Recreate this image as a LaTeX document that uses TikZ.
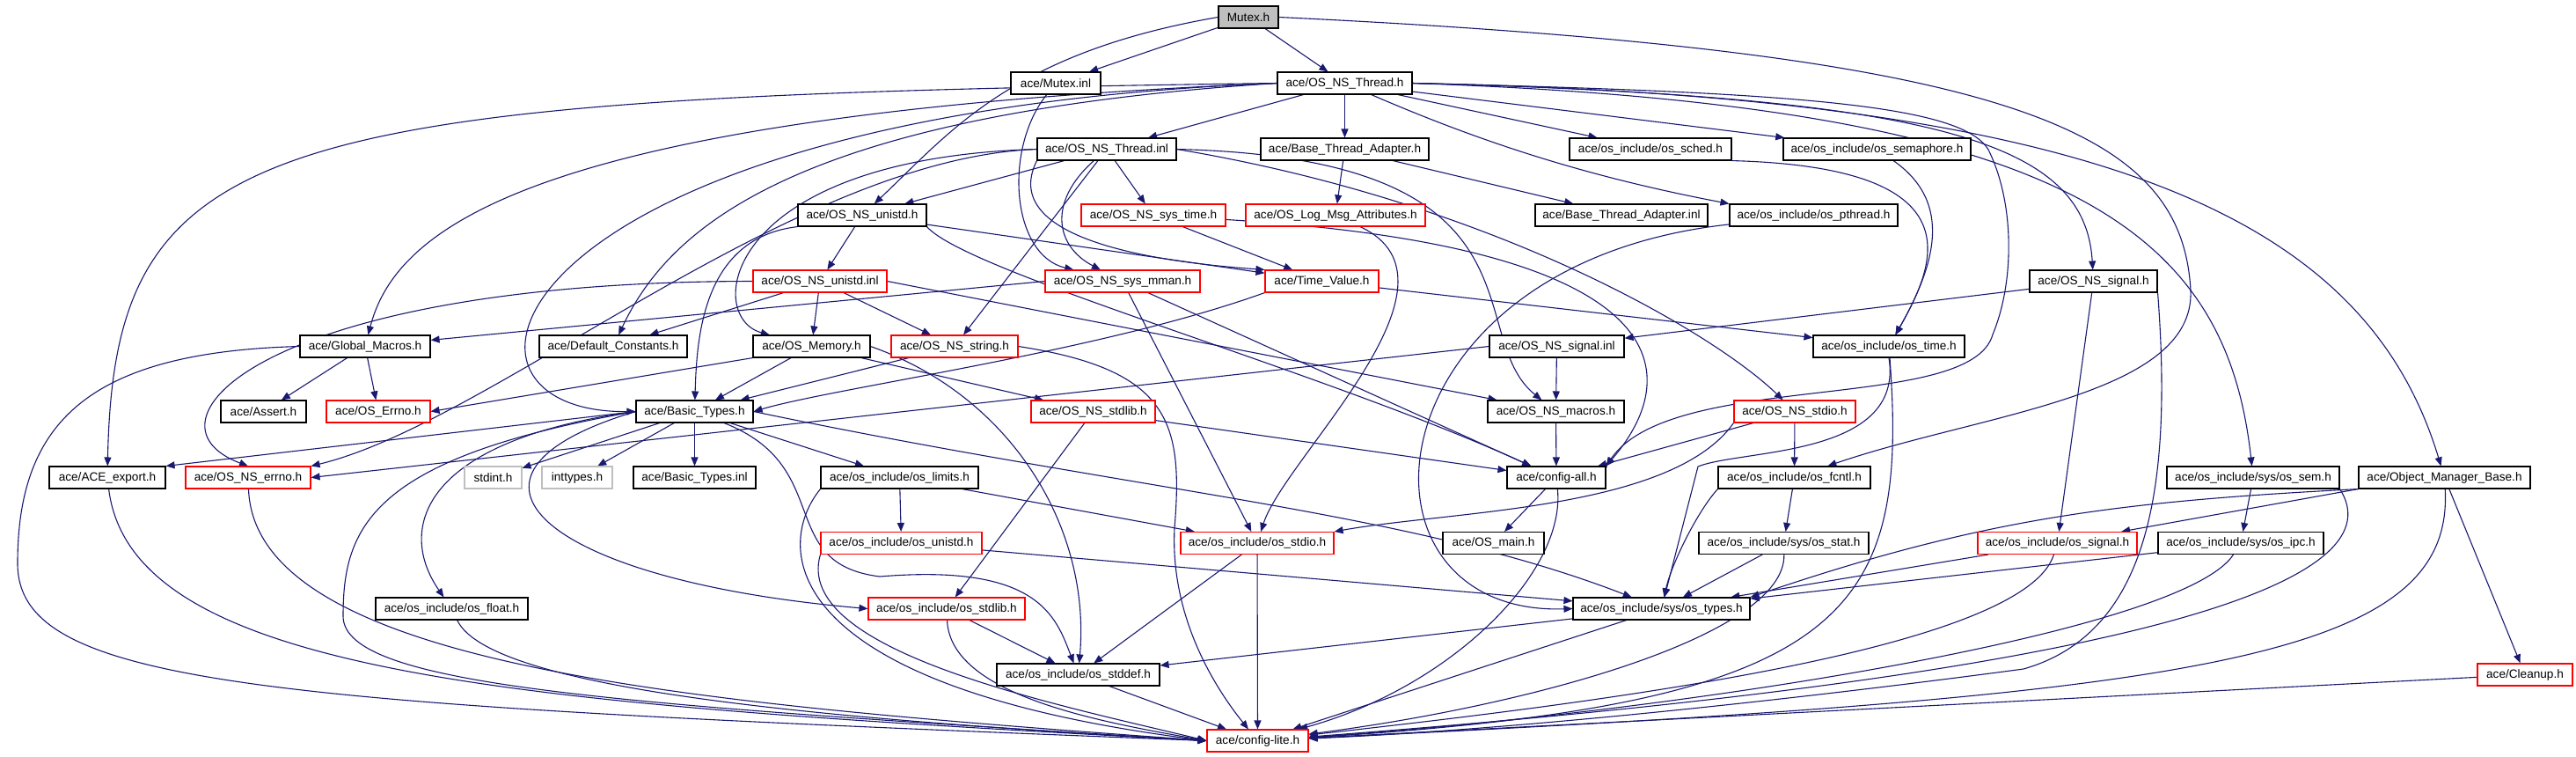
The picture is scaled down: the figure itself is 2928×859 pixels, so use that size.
\documentclass[tikz,border=0pt]{standalone}
\usepackage{fontspec}
\setmainfont{Liberation Sans}
\usepackage{tikz}
\usetikzlibrary{arrows.meta,backgrounds}
\definecolor{edgeblue}{HTML}{191970}
\definecolor{boxgray}{HTML}{BFBFBF}

\begin{document}
\begin{tikzpicture}[x=0.5pt,y=-0.5pt,
  filebox/.style={draw=black, fill=white, line width=0.55pt, minimum height=12.5pt, inner sep=0pt, font=\fontsize{6.8}{8}\selectfont},
  redfile/.style={filebox, draw=red},
  greyfile/.style={filebox, draw=boxgray},
  wd/.style={minimum width=#1*0.5pt}]
 \useasboundingbox (0,0) rectangle (2928,859);
 %the files, row by row
    \node[filebox, fill=boxgray, wd=68] (mutexh) at (1419,19.5) {Mutex.h};

    \node[filebox, wd=102] (mutexinl) at (1200,94.5) {ace/Mutex.inl};
    \node[filebox, wd=153] (nsthreadh) at (1528.5,94.5) {ace/OS\_NS\_Thread.h};

    \node[filebox, wd=158] (nsthreadinl) at (1258,169.5) {ace/OS\_NS\_Thread.inl};
    \node[filebox, wd=191] (btah) at (1528.5,169.5) {ace/Base\_Thread\_Adapter.h};
    \node[filebox, wd=184] (schedh) at (1876,169.5) {ace/os\_include/os\_sched.h};
    \node[filebox, wd=213] (semaphoreh) at (2133.5,169.5) {ace/os\_include/os\_semaphore.h};

    \node[filebox, wd=146] (unistdh) at (980,244.5) {ace/OS\_NS\_unistd.h};
    \node[redfile, wd=164] (systimeh) at (1311,244.5) {ace/OS\_NS\_sys\_time.h};
    \node[redfile, wd=204] (logmsgh) at (1518,244.5) {ace/OS\_Log\_Msg\_Attributes.h};
    \node[filebox, wd=196] (btainl) at (1843,244.5) {ace/Base\_Thread\_Adapter.inl};
    \node[filebox, wd=191] (pthreadh) at (2061.5,244.5) {ace/os\_include/os\_pthread.h};

    \node[redfile, wd=152] (unistdinl) at (932,319.5) {ace/OS\_NS\_unistd.inl};
    \node[redfile, wd=176] (mmanh) at (1276,319.5) {ace/OS\_NS\_sys\_mman.h};
    \node[redfile, wd=129] (timevalueh) at (1502.5,319.5) {ace/Time\_Value.h};
    \node[filebox, wd=145] (signalh) at (2379.5,319.5) {ace/OS\_NS\_signal.h};

    \node[filebox, wd=148] (globalmacros) at (415,393.5) {ace/Global\_Macros.h};
    \node[filebox, wd=168] (defconst) at (697,393.5) {ace/Default\_Constants.h};
    \node[filebox, wd=133] (memoryh) at (922.5,393.5) {ace/OS\_Memory.h};
    \node[redfile, wd=144] (stringh) at (1085,393.5) {ace/OS\_NS\_string.h};
    \node[filebox, wd=153] (signalinl) at (1769.5,393.5) {ace/OS\_NS\_signal.inl};
    \node[filebox, wd=172] (ostimeh) at (2147,393.5) {ace/os\_include/os\_time.h};

    \node[filebox, wd=97] (asserth) at (299.5,467.5) {ace/Assert.h};
    \node[redfile, wd=118] (errnoh) at (430,467.5) {ace/OS\_Errno.h};
    \node[filebox, wd=133] (basictypesh) at (789.5,467.5) {ace/Basic\_Types.h};
    \node[redfile, wd=141] (stdlibh) at (1242.5,467.5) {ace/OS\_NS\_stdlib.h};
    \node[filebox, wd=155] (macrosh) at (1768.5,467.5) {ace/OS\_NS\_macros.h};
    \node[redfile, wd=138] (stdioh) at (2040,467.5) {ace/OS\_NS\_stdio.h};

    \node[filebox, wd=132] (exporth) at (122,542.5) {ace/ACE\_export.h};
    \node[redfile, wd=142] (nserrnoh) at (282,542.5) {ace/OS\_NS\_errno.h};
    \node[greyfile, wd=65] (stdint) at (560.5,542.5) {stdint.h};
    \node[greyfile, wd=80] (inttypes) at (656,542.5) {inttypes.h};
    \node[filebox, wd=139] (basictypesinl) at (789.5,542.5) {ace/Basic\_Types.inl};
    \node[filebox, wd=179] (limitsh) at (1022.5,542.5) {ace/os\_include/os\_limits.h};
    \node[filebox, wd=112] (configall) at (1769,542.5) {ace/config-all.h};
    \node[filebox, wd=173] (fcntlh) at (2039.5,542.5) {ace/os\_include/os\_fcntl.h};
    \node[filebox, wd=196] (semh) at (2561,542.5) {ace/os\_include/sys/os\_sem.h};
    \node[filebox, wd=195] (objmgr) at (2778.5,542.5) {ace/Object\_Manager\_Base.h};

    \node[redfile, wd=183] (osunistdh) at (1024.5,617) {ace/os\_include/os\_unistd.h};
    \node[redfile, wd=174] (osstdioh) at (1429,617) {ace/os\_include/os\_stdio.h};
    \node[filebox, wd=115] (osmain) at (1697.5,617) {ace/OS\_main.h};
    \node[filebox, wd=193] (stath) at (2027.5,617) {ace/os\_include/sys/os\_stat.h};
    \node[redfile, wd=181] (ossignalh) at (2338.5,617) {ace/os\_include/os\_signal.h};
    \node[filebox, wd=188] (ipch) at (2547,617) {ace/os\_include/sys/os\_ipc.h};

    \node[filebox, wd=173] (floath) at (513.5,691.5) {ace/os\_include/os\_float.h};
    \node[redfile, wd=178] (osstdlibh) at (1076,691.5) {ace/os\_include/os\_stdlib.h};
    \node[filebox, wd=201] (typesh) at (1888.5,691.5) {ace/os\_include/sys/os\_types.h};

    \node[filebox, wd=185] (stddefh) at (1225.5,766.5) {ace/os\_include/os\_stddef.h};
    \node[redfile, wd=108] (cleanuph) at (2870,766.5) {ace/Cleanup.h};

    \node[redfile, wd=115] (configlite) at (1429.5,841.5) {ace/config-lite.h};

 %the include arrows, behind the files
 \begin{pgfonlayer}{background}
    \begin{scope}[every path/.style={draw=edgeblue, line width=0.55pt, -{Triangle[length=5pt,width=4pt]}}]
       %Mutex.h
       \draw (mutexh) -- (mutexinl);
       \draw (mutexh) -- (nsthreadh);
       \draw (mutexh.west) .. controls (1150,60) and (1080,150) .. (unistdh);
       \draw (mutexh.east) .. controls (2300,60) and (2480,150) .. (2490,330) .. controls (2495,450) and (2250,470) .. (fcntlh);
       %ace/Mutex.inl
       \draw (mutexinl) .. controls (1140,170) and (1150,290) .. (mmanh);
       %ace/OS_NS_Thread.h
       \draw (nsthreadh) -- (nsthreadinl);
       \draw (nsthreadh) -- (btah);
       \draw (nsthreadh) -- (schedh);
       \draw (nsthreadh) -- (semaphoreh);
       \draw (nsthreadh) .. controls (1680,160) and (1800,200) .. (pthreadh.north west);
       \draw (nsthreadh.west) .. controls (300,110) and (130,150) .. (exporth);
       \draw (nsthreadh.west) .. controls (600,130) and (450,260) .. (globalmacros);
       \draw (nsthreadh.west) .. controls (560,130) and (470,470) .. (basictypesh.west);
       \draw (nsthreadh.west) .. controls (900,130) and (760,260) .. (defconst);
       \draw (nsthreadh.east) .. controls (2200,110) and (2370,160) .. (signalh);
       \draw (nsthreadh.east) .. controls (2350,120) and (2530,260) .. (semh);
       \draw (nsthreadh.east) .. controls (2400,110) and (2690,250) .. (objmgr);
       \draw (nsthreadh.east) .. controls (2050,105) and (2230,120) .. (2260,170) .. controls (2290,230) and (2290,320) .. (2265,380) .. controls (2240,470) and (1900,420) .. (configall.north east);
       %ace/OS_NS_Thread.inl
       \draw (nsthreadinl) -- (unistdh);
       \draw (nsthreadinl) -- (systimeh);
       \draw (nsthreadinl) .. controls (1190,230) and (1200,280) .. (mmanh);
       \draw (nsthreadinl.south west) .. controls (1130,280) and (1350,300) .. (timevalueh.north west);
       \draw (nsthreadinl) -- (stringh);
       \draw (nsthreadinl.west) .. controls (820,180) and (800,360) .. (memoryh);
       \draw (nsthreadinl.west) .. controls (900,180) and (560,480) .. (nserrnoh.north east);
       \draw (nsthreadinl.east) .. controls (1770,180) and (1660,380) .. (macrosh);
       \draw (nsthreadinl.east) .. controls (1700,230) and (1950,380) .. (stdioh);
       %ace/Base_Thread_Adapter.h
       \draw (btah) -- (logmsgh);
       \draw (btah) -- (btainl);
       %os_sched.h, os_semaphore.h, os_pthread.h
       \draw (schedh.south east) .. controls (2250,190) and (2200,300) .. (ostimeh);
       \draw (semaphoreh) .. controls (2220,230) and (2200,300) .. (ostimeh);
       \draw (pthreadh) .. controls (1550,300) and (1520,700) .. (typesh.west);
       %ace/OS_NS_unistd.h
       \draw (unistdh) -- (unistdinl);
       \draw (unistdh.south west) .. controls (800,270) and (792,380) .. (basictypesh);
       \draw (unistdh) -- (timevalueh);
       \draw (unistdh.south east) .. controls (1100,310) and (1500,420) .. (configall);
       %ace/OS_NS_unistd.inl
       \draw (unistdinl.west) .. controls (300,320) and (150,480) .. (nserrnoh.north);
       \draw (unistdinl) -- (defconst);
       \draw (unistdinl) -- (memoryh);
       \draw (unistdinl) -- (stringh);
       \draw (unistdinl.east) -- (macrosh);
       %ace/OS_NS_sys_mman.h
       \draw (mmanh.west) -- (globalmacros);
       \draw (mmanh) -- (configall);
       \draw (mmanh) -- (osstdioh);
       %ace/Time_Value.h, ace/OS_NS_sys_time.h
       \draw (timevalueh.south west) .. controls (1250,400) and (950,440) .. (basictypesh.east);
       \draw (timevalueh) -- (ostimeh);
       \draw (systimeh) -- (timevalueh);
       \draw (systimeh) .. controls (1900,280) and (1920,420) .. (configall.north east);
       %ace/OS_Log_Msg_Attributes.h
       \draw (logmsgh) .. controls (1680,320) and (1460,520) .. (osstdioh);
       %ace/OS_NS_signal.h
       \draw (signalh) -- (signalinl);
       \draw (signalh) -- (ossignalh);
       \draw (signalh.south east) .. controls (2470,560) and (2440,720) .. (2300,760) .. controls (2000,800) and (1700,830) .. (configlite);
       %ace/Global_Macros.h
       \draw (globalmacros) -- (asserth);
       \draw (globalmacros) -- (errnoh);
       \draw (globalmacros.west) .. controls (100,400) and (20,480) .. (20,640) .. controls (20,780) and (300,800) .. (configlite.west);
       %ace/OS_Memory.h
       \draw (memoryh.south west) -- (errnoh.east);
       \draw (memoryh) -- (basictypesh);
       \draw (memoryh) -- (stdlibh);
       \draw (memoryh.east) .. controls (1150,450) and (1240,600) .. (stddefh);
       %ace/OS_NS_string.h, ace/OS_NS_signal.inl
       \draw (stringh) -- (basictypesh);
       \draw (stringh.east) .. controls (1330,420) and (1345,480) .. (1335,600) .. controls (1330,700) and (1380,780) .. (configlite);
       \draw (signalinl) -- (macrosh);
       \draw (signalinl.west) -- (nserrnoh.east);
       %ace/os_include/os_time.h
       \draw (ostimeh.south) .. controls (2165,520) and (1980,510) .. (1930,530) -- (typesh);
       \draw (ostimeh) .. controls (2170,700) and (2100,800) .. (configlite);
       %ace/Basic_Types.h
       \draw (basictypesh.west) -- (exporth.north east);
       \draw (basictypesh) -- (stdint);
       \draw (basictypesh) -- (inttypes);
       \draw (basictypesh) -- (basictypesinl);
       \draw (basictypesh) -- (limitsh);
       \draw (basictypesh.west) .. controls (480,500) and (450,600) .. (floath);
       \draw (basictypesh.west) .. controls (480,540) and (620,660) .. (osstdlibh.west);
       \draw (basictypesh.east) .. controls (1300,560) and (1600,580) .. (typesh);
       \draw (basictypesh) .. controls (950,530) and (880,640) .. (1000,655) .. controls (1180,640) and (1200,700) .. (stddefh);
       \draw (basictypesh.west) .. controls (420,520) and (390,600) .. (390,700) .. controls (390,780) and (700,800) .. (configlite.west);
       %ace/os_include/os_limits.h
       \draw (limitsh) -- (osunistdh);
       \draw (limitsh) -- (osstdioh);
       \draw (limitsh.south west) .. controls (880,620) and (880,780) .. (configlite.west);
       %ace/OS_NS_stdlib.h, ace/OS_NS_macros.h, ace/OS_NS_stdio.h
       \draw (stdlibh) -- (configall);
       \draw (stdlibh) -- (osstdlibh);
       \draw (macrosh) -- (configall);
       \draw (stdioh) -- (fcntlh);
       \draw (stdioh) -- (configall);
       \draw (stdioh.south west) .. controls (1900,580) and (1650,580) .. (osstdioh.north east);
       %ace/ACE_export.h, ace/OS_NS_errno.h, ace/os_include/os_float.h
       \draw (exporth) .. controls (150,770) and (600,800) .. (configlite.west);
       \draw (nserrnoh) .. controls (290,760) and (800,800) .. (configlite.west);
       \draw (floath) .. controls (560,790) and (1000,820) .. (configlite.west);
       %ace/config-all.h
       \draw (configall) -- (osmain);
       \draw (configall) .. controls (1780,650) and (1650,780) .. (configlite);
       %ace/os_include/os_fcntl.h, sys/os_stat.h
       \draw (fcntlh) -- (stath);
       \draw (fcntlh.south west) .. controls (1930,580) and (1900,640) .. (typesh);
       \draw (stath) -- (typesh);
       \draw (stath) .. controls (2030,720) and (1750,800) .. (configlite);
       %ace/os_include/os_signal.h, sys/os_ipc.h, sys/os_sem.h
       \draw (ossignalh) -- (typesh);
       \draw (ossignalh) .. controls (2300,740) and (1800,800) .. (configlite);
       \draw (ipch) -- (typesh);
       \draw (ipch) .. controls (2480,720) and (1900,810) .. (configlite);
       \draw (semh) -- (ipch);
       \draw (semh.south east) .. controls (2720,650) and (2500,760) .. (configlite);
       %ace/Object_Manager_Base.h, ace/Cleanup.h
       \draw (objmgr) -- (cleanuph);
       \draw (objmgr.south west) -- (ossignalh);
       \draw (objmgr.south west) .. controls (2400,570) and (2250,590) .. (typesh.north east);
       \draw (objmgr) .. controls (2790,750) and (2500,790) .. (configlite);
       \draw (cleanuph) -- (configlite);
       %the lowest headers
       \draw (osunistdh) -- (typesh);
       \draw (osunistdh.south west) .. controls (900,740) and (1200,800) .. (configlite.west);
       \draw (osstdlibh) -- (stddefh);
       \draw (osstdlibh) .. controls (1080,790) and (1250,820) .. (configlite.west);
       \draw (osstdioh) -- (stddefh);
       \draw (osstdioh) -- (configlite);
       \draw (typesh) -- (stddefh);
       \draw (typesh) -- (configlite);
       \draw (stddefh) -- (configlite);
    \end{scope}
 \end{pgfonlayer}
\end{tikzpicture}
\end{document}
